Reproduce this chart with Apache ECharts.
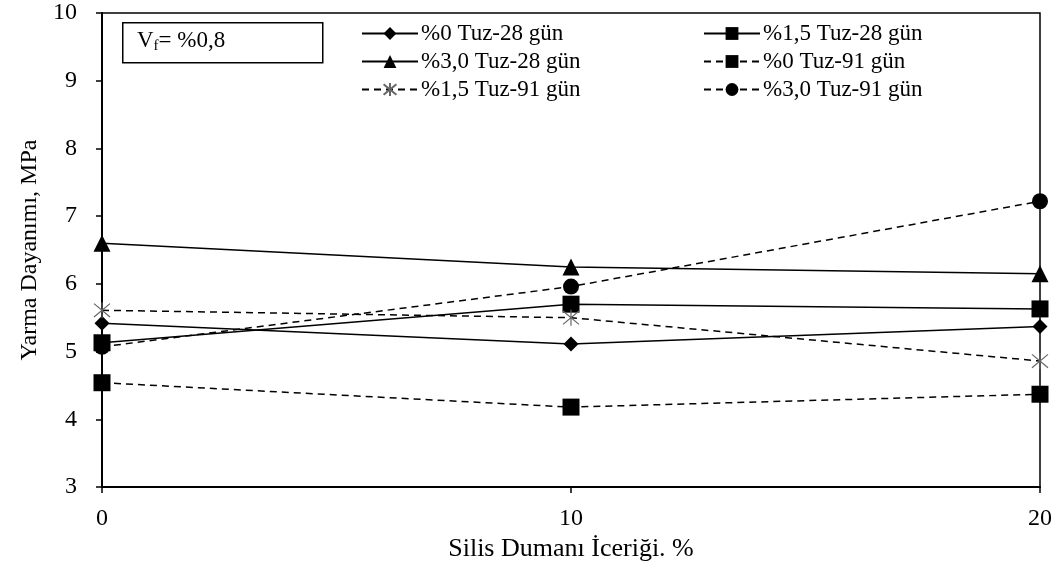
<!DOCTYPE html>
<html><head><meta charset="utf-8">
<script src="https://cdn.jsdelivr.net/npm/echarts@6/dist/echarts.min.js"></script>
<style>html,body{margin:0;padding:0;background:#fff}#c{width:1063px;height:567px}</style>
</head><body><div id="c"></div>
<script>
const xValues = [0, 10, 20];
const seriesNames = ['%0 Tuz-28 gün', '%1,5 Tuz-28 gün', '%3,0 Tuz-28 gün', '%0 Tuz-91 gün', '%1,5 Tuz-91 gün', '%3,0 Tuz-91 gün'];
const tuz0_28 = [5.42, 5.11, 5.37];
const tuz15_28 = [5.13, 5.70, 5.63];
const tuz30_28 = [6.60, 6.25, 6.15];
const tuz0_91 = [4.54, 4.18, 4.37];
const tuz15_91 = [5.61, 5.50, 4.86];
const tuz30_91 = [5.07, 5.96, 7.22];
const yTicks = [3, 4, 5, 6, 7, 8, 9, 10];

const FONT = '"Liberation Serif", "DejaVu Serif", serif';
const asterisk = 'path://M0,0 L10,10 M10,0 L0,10 M5,-1 L5,11';
const values = [tuz0_28, tuz15_28, tuz30_28, tuz0_91, tuz15_91, tuz30_91];
const symbols = ['diamond', 'rect', 'triangle', 'rect', asterisk, 'circle'];
const sizes = [15, 17, 17, 17, 16, 16];
const dashed = [false, false, false, true, true, true];

const series = seriesNames.map((n, i) => ({
  name: n,
  type: 'line',
  data: xValues.map((x, j) => [x, values[i][j]]),
  symbol: symbols[i],
  symbolSize: sizes[i],
  showAllSymbol: true,
  lineStyle: { color: '#000', width: 1.5, type: dashed[i] ? [7, 5] : 'solid' },
  itemStyle: i === 4 ? { color: 'none', borderColor: '#666', borderWidth: 1.2 } : { color: '#000', borderWidth: 0 },
  emphasis: { disabled: true },
  animation: false,
  z: 3
}));

const legendCommon = {
  orient: 'vertical',
  itemWidth: 56,
  itemHeight: 16,
  itemGap: 5,
  textStyle: { fontFamily: FONT, fontSize: 23, color: '#000', padding: [0, 0, 0, -2] },
  selectedMode: false
};

const chart = echarts.init(document.getElementById('c'));
chart.setOption({
  backgroundColor: '#fff',
  animation: false,
  grid: { left: 102, right: 23, top: 13, bottom: 80, show: true, borderColor: '#000', borderWidth: 1.5, backgroundColor: 'transparent' },
  legend: [
    Object.assign({}, legendCommon, { left: 356, top: 17, data: [seriesNames[0], seriesNames[2], seriesNames[4]] }),
    Object.assign({}, legendCommon, { left: 698, top: 17, data: [seriesNames[1], seriesNames[3], seriesNames[5]] })
  ],
  xAxis: {
    type: 'value', min: 0, max: 20, interval: 10,
    name: 'Silis Dumanı İceriği. %', nameLocation: 'middle', nameGap: 49,
    nameTextStyle: { fontFamily: FONT, fontSize: 26, color: '#000' },
    axisLine: { show: true, onZero: false, lineStyle: { color: '#000', width: 2 } },
    axisTick: { show: true, inside: false, length: 6, lineStyle: { color: '#000', width: 1.5 } },
    axisLabel: { fontFamily: FONT, fontSize: 24, color: '#000', margin: 20 },
    splitLine: { show: false }
  },
  yAxis: {
    type: 'value', min: yTicks[0], max: yTicks[yTicks.length - 1], interval: 1,
    name: 'Yarma Dayanımı, MPa', nameLocation: 'middle', nameGap: 58, nameRotate: 90,
    nameTextStyle: { fontFamily: FONT, fontSize: 24, color: '#000' },
    axisLine: { show: true, onZero: false, lineStyle: { color: '#000', width: 2 } },
    axisTick: { show: true, inside: false, length: 6, lineStyle: { color: '#000', width: 1.5 } },
    axisLabel: { fontFamily: FONT, fontSize: 24, color: '#000', margin: 25 },
    splitLine: { show: false }
  },
  graphic: [
    { type: 'rect', left: 122, top: 22, shape: { width: 200, height: 40 }, style: { fill: '#fff', stroke: '#000', lineWidth: 1.5 }, z: 10 },
    { type: 'text', left: 137, top: 29, z: 11,
      style: { text: 'V{sub|f}= %0,8', font: '23px ' + FONT, fill: '#000',
        rich: { sub: { fontFamily: FONT, fontSize: 15, verticalAlign: 'bottom', padding: [12, 0, 0, 0] } } } }
  ],
  series: series
});
</script></body></html>
